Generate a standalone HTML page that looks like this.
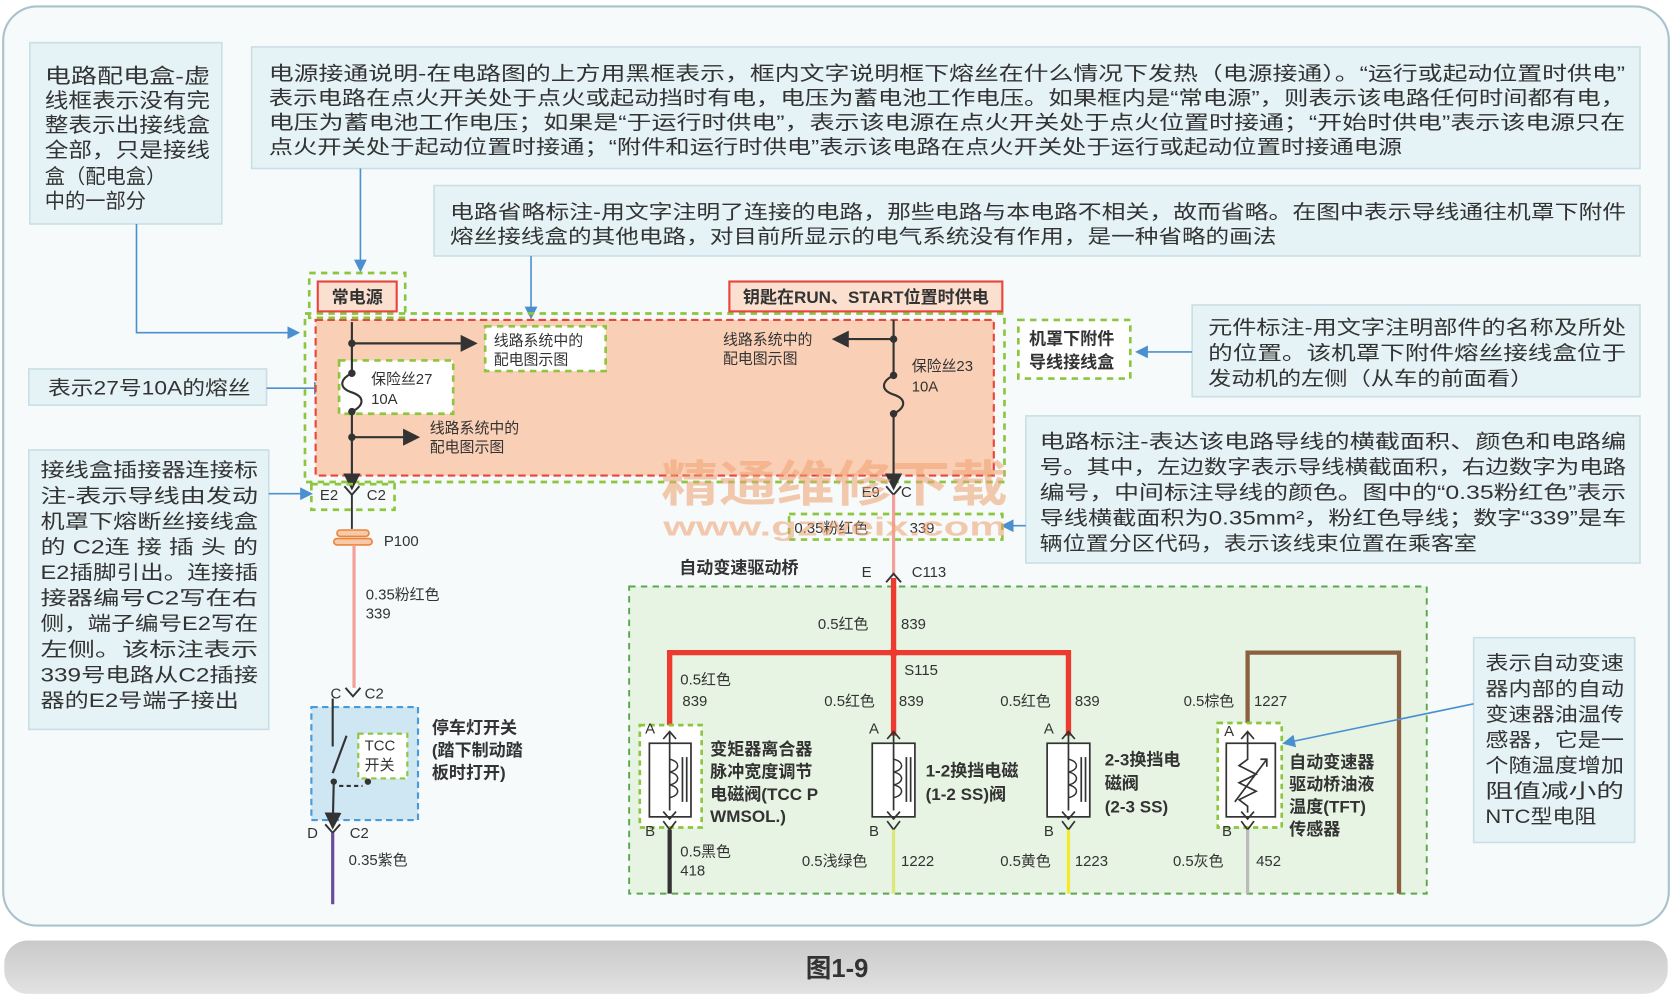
<!DOCTYPE html>
<html><head><meta charset="utf-8">
<style>
html,body{margin:0;padding:0;background:#fff;width:1672px;height:996px;overflow:hidden}
svg{display:block}
text{font-family:"Liberation Sans","Noto Sans CJK SC",sans-serif;fill:#333}
.a{font-size:18px;fill:#3a3a3a}
.s{font-size:14px;fill:#333}
.b{font-size:16px;font-weight:bold;fill:#333}
</style></head><body>
<svg width="1672" height="996" viewBox="0 0 1568 934" preserveAspectRatio="none" xmlns="http://www.w3.org/2000/svg">
<defs>
<marker id="ab" markerWidth="8" markerHeight="8" refX="7" refY="4" orient="auto"><path d="M0,0 L8,4 L0,8 z" fill="#4a90d0"/></marker>
<marker id="ak" markerWidth="8" markerHeight="8" refX="7" refY="4" orient="auto"><path d="M0,0 L8,4 L0,8 z" fill="#333"/></marker>
<linearGradient id="gb" x1="0" y1="0" x2="0" y2="1"><stop offset="0" stop-color="#c9c9c9"/><stop offset="1" stop-color="#e2e2e2"/></linearGradient>
</defs>
<rect x="0" y="0" width="1568" height="934" fill="#fff"/>
<rect x="3" y="6" width="1562" height="862" rx="32" fill="#f6fafa" stroke="#a9c2cc" stroke-width="2"/>
<rect x="4" y="882" width="1560" height="50" rx="22" fill="url(#gb)"/>
<text x="785" y="916" font-size="24" font-weight="bold" text-anchor="middle" style="fill:#333">图1-9</text>

<g fill="#e6f3f6" stroke="#c8dfe5" stroke-width="1.5">
<rect x="28" y="40" width="180" height="170"/>
<rect x="236" y="44" width="1302" height="114"/>
<rect x="407" y="174" width="1131" height="66"/>
<rect x="27" y="346" width="223" height="34"/>
<rect x="27" y="422" width="225" height="262"/>
<rect x="1118" y="286" width="420" height="86"/>
<rect x="962" y="390" width="576" height="138"/>
<rect x="1382" y="598" width="151" height="192"/>
</g>
<g class="a">
<text x="42" y="78" font-size="19" textLength="155" lengthAdjust="spacingAndGlyphs">电路配电盒-虚</text>
<text x="42" y="101" font-size="19" textLength="155" lengthAdjust="spacingAndGlyphs">线框表示没有完</text>
<text x="42" y="124" font-size="19" textLength="155" lengthAdjust="spacingAndGlyphs">整表示出接线盒</text>
<text x="42" y="147" font-size="19" textLength="155" lengthAdjust="spacingAndGlyphs">全部，只是接线</text>
<text x="42" y="172" font-size="19">盒（配电盒）</text>
<text x="42" y="195" font-size="19">中的一部分</text>

<text x="252" y="75" textLength="1272" lengthAdjust="spacingAndGlyphs">电源接通说明-在电路图的上方用黑框表示，框内文字说明框下熔丝在什么情况下发热（电源接通）。“运行或起动位置时供电”</text>
<text x="252" y="98" textLength="1272" lengthAdjust="spacingAndGlyphs">表示电路在点火开关处于点火或起动挡时有电，电压为蓄电池工作电压。如果框内是“常电源”，则表示该电路任何时间都有电，</text>
<text x="252" y="121" textLength="1272" lengthAdjust="spacingAndGlyphs">电压为蓄电池工作电压；如果是“于运行时供电”，表示该电源在点火开关处于点火位置时接通；“开始时供电”表示该电源只在</text>
<text x="252" y="144" textLength="1063" lengthAdjust="spacingAndGlyphs">点火开关处于起动位置时接通；“附件和运行时供电”表示该电路在点火开关处于运行或起动位置时接通电源</text>

<text x="422" y="205" textLength="1103" lengthAdjust="spacingAndGlyphs">电路省略标注-用文字注明了连接的电路，那些电路与本电路不相关，故而省略。在图中表示导线通往机罩下附件</text>
<text x="422" y="228" textLength="775" lengthAdjust="spacingAndGlyphs">熔丝接线盒的其他电路，对目前所显示的电气系统没有作用，是一种省略的画法</text>

<text x="45" y="370" textLength="190" lengthAdjust="spacingAndGlyphs">表示27号10A的熔丝</text>

<text x="38" y="447" textLength="204" lengthAdjust="spacingAndGlyphs">接线盒插接器连接标</text>
<text x="38" y="471" textLength="204" lengthAdjust="spacingAndGlyphs">注-表示导线由发动</text>
<text x="38" y="495" textLength="204" lengthAdjust="spacingAndGlyphs">机罩下熔断丝接线盒</text>
<text x="38" y="519" textLength="204" lengthAdjust="spacingAndGlyphs">的 C2连 接 插 头 的</text>
<text x="38" y="543" textLength="204" lengthAdjust="spacingAndGlyphs">E2插脚引出。连接插</text>
<text x="38" y="567" textLength="204" lengthAdjust="spacingAndGlyphs">接器编号C2写在右</text>
<text x="38" y="591" textLength="204" lengthAdjust="spacingAndGlyphs">侧，端子编号E2写在</text>
<text x="38" y="615" textLength="204" lengthAdjust="spacingAndGlyphs">左侧。该标注表示</text>
<text x="38" y="639" textLength="204" lengthAdjust="spacingAndGlyphs">339号电路从C2插接</text>
<text x="38" y="663" textLength="186" lengthAdjust="spacingAndGlyphs">器的E2号端子接出</text>

<text x="1133" y="313" textLength="392" lengthAdjust="spacingAndGlyphs">元件标注-用文字注明部件的名称及所处</text>
<text x="1133" y="337" textLength="392" lengthAdjust="spacingAndGlyphs">的位置。该机罩下附件熔丝接线盒位于</text>
<text x="1133" y="361" textLength="305" lengthAdjust="spacingAndGlyphs">发动机的左侧（从车的前面看）</text>

<text x="975" y="420" textLength="550" lengthAdjust="spacingAndGlyphs">电路标注-表达该电路导线的横截面积、颜色和电路编</text>
<text x="975" y="444" textLength="550" lengthAdjust="spacingAndGlyphs">号。其中，左边数字表示导线横截面积，右边数字为电路</text>
<text x="975" y="468" textLength="550" lengthAdjust="spacingAndGlyphs">编号，中间标注导线的颜色。图中的“0.35粉红色”表示</text>
<text x="975" y="492" textLength="550" lengthAdjust="spacingAndGlyphs">导线横截面积为0.35mm²，粉红色导线；数字“339”是车</text>
<text x="975" y="516" textLength="410" lengthAdjust="spacingAndGlyphs">辆位置分区代码，表示该线束位置在乘客室</text>

<text x="1393" y="628" textLength="130" lengthAdjust="spacingAndGlyphs">表示自动变速</text>
<text x="1393" y="652" textLength="130" lengthAdjust="spacingAndGlyphs">器内部的自动</text>
<text x="1393" y="676" textLength="130" lengthAdjust="spacingAndGlyphs">变速器油温传</text>
<text x="1393" y="700" textLength="130" lengthAdjust="spacingAndGlyphs">感器，它是一</text>
<text x="1393" y="724" textLength="130" lengthAdjust="spacingAndGlyphs">个随温度增加</text>
<text x="1393" y="748" textLength="130" lengthAdjust="spacingAndGlyphs">阻值减小的</text>
<text x="1393" y="772" textLength="104" lengthAdjust="spacingAndGlyphs">NTC型电阻</text>
</g>

<g stroke="#4a90d0" stroke-width="1.5" fill="none">
<polyline points="128,210 128,312 280,312" marker-end="url(#ab)"/>
<line x1="338" y1="158" x2="338" y2="254" marker-end="url(#ab)"/>
<line x1="498" y1="240" x2="498" y2="298" marker-end="url(#ab)"/>
<line x1="250" y1="364" x2="305" y2="364" marker-end="url(#ab)"/>
<line x1="252" y1="463" x2="292" y2="463" marker-end="url(#ab)"/>
<line x1="1118" y1="330" x2="1066" y2="330" marker-end="url(#ab)"/>
<line x1="962" y1="493" x2="940" y2="493" marker-end="url(#ab)"/>
</g>

<rect x="286" y="294" width="656" height="158" fill="none" stroke="#8cc63f" stroke-width="2.5" stroke-dasharray="6,5"/>
<rect x="296" y="300" width="636" height="146" fill="#f9cfb6" stroke="#e8463c" stroke-width="2" stroke-dasharray="7,4"/>
<rect x="290" y="256" width="90" height="42" fill="none" stroke="#8cc63f" stroke-width="2.5" stroke-dasharray="6,5"/>
<rect x="298" y="264" width="74" height="28" fill="#fbe0d0" stroke="#e8463c" stroke-width="2"/>
<text x="335" y="284" class="b" font-size="14" text-anchor="middle">常电源</text>
<rect x="684" y="264" width="256" height="28" fill="#fbe0d0" stroke="#e8463c" stroke-width="2"/>
<text x="812" y="284" class="b" font-size="14" text-anchor="middle">钥匙在RUN、START位置时供电</text>

<rect x="455" y="306" width="113" height="42" fill="#fff" stroke="#8cc63f" stroke-width="2.5" stroke-dasharray="6,5"/>
<rect x="318" y="338" width="107" height="50" fill="#fff" stroke="#8cc63f" stroke-width="2.5" stroke-dasharray="6,5"/>
<rect x="955" y="300" width="105" height="55" fill="#fff" stroke="#8cc63f" stroke-width="2.5" stroke-dasharray="6,5"/>
<text x="965" y="323" class="b">机罩下附件</text>
<text x="965" y="345" class="b">导线接线盒</text>

<g stroke="#333" stroke-width="2" fill="none">
<line x1="330" y1="302" x2="330" y2="350"/>
<path d="M330,350 c-12,6 -12,14 0,18 c12,4 12,12 0,18"/>
<line x1="330" y1="386" x2="330" y2="458" marker-end="url(#ak)"/>
<line x1="330" y1="322" x2="446" y2="322" marker-end="url(#ak)"/>
<line x1="330" y1="410" x2="392" y2="410" marker-end="url(#ak)"/>
<line x1="838" y1="300" x2="838" y2="352"/>
<path d="M838,352 c-12,6 -12,14 0,18 c12,4 12,12 0,18"/>
<line x1="838" y1="388" x2="838" y2="458" marker-end="url(#ak)"/>
<line x1="838" y1="318" x2="782" y2="318" marker-end="url(#ak)"/>
</g>
<g fill="#333"><circle cx="330" cy="322" r="3.5"/><circle cx="330" cy="350" r="3.5"/><circle cx="330" cy="386" r="3.5"/><circle cx="330" cy="410" r="3.5"/><circle cx="838" cy="318" r="3.5"/><circle cx="838" cy="352" r="3.5"/><circle cx="838" cy="388" r="3.5"/></g>
<g class="s">
<text x="463" y="324">线路系统中的</text><text x="463" y="342">配电图示图</text>
<text x="348" y="360">保险丝27</text><text x="348" y="379">10A</text>
<text x="403" y="406">线路系统中的</text><text x="403" y="424">配电图示图</text>
<text x="678" y="323">线路系统中的</text><text x="678" y="341">配电图示图</text>
<text x="855" y="348">保险丝23</text><text x="855" y="367">10A</text>
</g>

<rect x="292" y="454" width="78" height="24" fill="none" stroke="#8cc63f" stroke-width="2.5" stroke-dasharray="6,5"/>
<g stroke="#333" stroke-width="1.8" fill="none">
<path d="M323,456 L330,464 L337,456"/><line x1="330" y1="464" x2="330" y2="496"/>
<path d="M831,456 L838,464 L845,456"/>
</g>
<text x="300" y="469" class="s">E2</text><text x="344" y="469" class="s">C2</text>
<g fill="#f7c9a8" stroke="#e8863c" stroke-width="1.5"><rect x="316" y="497" width="30" height="6" rx="3"/><rect x="313" y="505" width="36" height="6" rx="3"/></g>
<text x="360" y="512" class="s">P100</text>
<line x1="332" y1="512" x2="332" y2="645" stroke="#f4a09a" stroke-width="3"/>
<text x="343" y="562" class="s">0.35粉红色</text><text x="343" y="580" class="s">339</text>
<path d="M324,645 L331,653 L338,645" stroke="#333" stroke-width="1.8" fill="none"/>
<text x="310" y="655" class="s">C</text><text x="342" y="655" class="s">C2</text>
<rect x="292" y="663" width="100" height="106" fill="#cfe6f3" stroke="#4a9ad6" stroke-width="2" stroke-dasharray="6,4"/>
<rect x="336" y="688" width="46" height="42" fill="#fff" stroke="#8cc63f" stroke-width="2" stroke-dasharray="5,4"/>
<g stroke="#333" stroke-width="2" fill="none">
<line x1="312" y1="655" x2="312" y2="700"/>
<line x1="325" y1="690" x2="312" y2="725"/>
<line x1="313" y1="733" x2="312" y2="776" marker-end="url(#ak)"/>
<line x1="318" y1="737" x2="340" y2="737" stroke-dasharray="4,3"/>
</g>
<circle cx="313" cy="733" r="3" fill="#333"/><circle cx="345" cy="733" r="3" fill="#333"/>
<text x="342" y="704" class="s">TCC</text><text x="342" y="722" class="s">开关</text>
<text x="405" y="688" class="b">停车灯开关</text><text x="405" y="709" class="b">(踏下制动踏</text><text x="405" y="730" class="b">板时打开)</text>
<path d="M305,773 L312,781 L319,773" stroke="#333" stroke-width="1.8" fill="none"/>
<text x="288" y="786" class="s">D</text><text x="328" y="786" class="s">C2</text>
<line x1="312" y1="781" x2="312" y2="848" stroke="#6a4c9c" stroke-width="3"/>
<text x="327" y="811" class="s">0.35紫色</text>

<text x="808" y="466" class="s">E9</text><text x="845" y="466" class="s">C</text>
<rect x="740" y="482" width="200" height="24" fill="none" stroke="#8cc63f" stroke-width="2.5" stroke-dasharray="6,5"/>
<line x1="838" y1="464" x2="838" y2="540" stroke="#f4a09a" stroke-width="3"/>
<text x="745" y="500" class="s">0.35粉红色</text><text x="853" y="500" class="s">339</text>
<text x="637" y="538" class="b">自动变速驱动桥</text>
<text x="808" y="541" class="s">E</text><text x="855" y="541" class="s">C113</text>
<rect x="590" y="550" width="748" height="288" fill="#e7f3e3" stroke="#5aa84c" stroke-width="1.8" stroke-dasharray="6,5"/>
<path d="M831,546 L838,538 L845,546" stroke="#333" stroke-width="1.8" fill="none"/>
<g stroke="#ee3a2e" stroke-width="5" fill="none">
<line x1="838" y1="542" x2="838" y2="690"/>
<polyline points="628,690 628,612 1002,612 1002,690"/>
</g>
<circle cx="838" cy="612" r="4" fill="#ee3a2e"/>
<polyline points="1170,690 1170,612 1312,612 1312,838" stroke="#8a6040" stroke-width="4" fill="none"/>
<g class="s">
<text x="767" y="590">0.5红色</text><text x="845" y="590">839</text>
<text x="848" y="633">S115</text>
<text x="638" y="642">0.5红色</text><text x="640" y="662">839</text>
<text x="773" y="662">0.5红色</text><text x="843" y="662">839</text>
<text x="938" y="662">0.5红色</text><text x="1008" y="662">839</text>
<text x="1110" y="662">0.5棕色</text><text x="1176" y="662">1227</text>
</g>
<g fill="none" stroke="#8cc63f" stroke-width="2.5" stroke-dasharray="5,4">
<rect x="600" y="680" width="58" height="96" fill="#fff"/>
<rect x="1142" y="678" width="60" height="98" fill="#fff"/>
</g>
<g stroke="#333" stroke-width="1.6" fill="#fff">
<rect x="609" y="697" width="39" height="69"/>
<rect x="818" y="697" width="40" height="69"/>
<rect x="982" y="697" width="40" height="69"/>
<rect x="1150" y="697" width="46" height="69"/>
</g>
<g stroke="#333" stroke-width="1.6" fill="none">
<path d="M628,686 L628,760 M622,693 L628,686 L634,693 M622,761 L628,768 L634,761 M622,770 L628,778 L634,770"/>
<path d="M628,712 c10,2 10,10 0,12 c10,2 10,10 0,12 c10,2 10,10 0,12" stroke-width="1.4"/>
<path d="M640,710 L640,752 M644,710 L644,752"/>
<path d="M838,686 L838,760 M832,693 L838,686 L844,693 M832,761 L838,768 L844,761 M832,770 L838,778 L844,770"/>
<path d="M838,712 c10,2 10,10 0,12 c10,2 10,10 0,12 c10,2 10,10 0,12" stroke-width="1.4"/>
<path d="M850,710 L850,752 M854,710 L854,752"/>
<path d="M1002,686 L1002,760 M996,693 L1002,686 L1008,693 M996,761 L1002,768 L1008,761 M996,770 L1002,778 L1008,770"/>
<path d="M1002,712 c10,2 10,10 0,12 c10,2 10,10 0,12 c10,2 10,10 0,12" stroke-width="1.4"/>
<path d="M1014,710 L1014,752 M1018,710 L1018,752"/>
<path d="M1170,686 L1170,712 L1162,718 L1178,726 L1162,734 L1178,742 L1162,750 L1170,756 L1170,762 M1164,693 L1170,686 L1176,693 M1164,761 L1170,768 L1176,761 M1164,770 L1170,778 L1176,770 M1158,752 L1188,712 M1182,712 L1188,712 L1188,719"/>
</g>
<g class="s">
<text x="605" y="688">A</text><text x="605" y="784">B</text>
<text x="815" y="688">A</text><text x="815" y="784">B</text>
<text x="979" y="688">A</text><text x="979" y="784">B</text>
<text x="1148" y="690">A</text><text x="1146" y="784">B</text>
</g>
<g class="b">
<text x="666" y="708">变矩器离合器</text><text x="666" y="729">脉冲宽度调节</text><text x="666" y="750">电磁阀(TCC P</text><text x="666" y="771">WMSOL.)</text>
<text x="868" y="728">1-2换挡电磁</text><text x="868" y="750">(1-2 SS)阀</text>
<text x="1036" y="718">2-3换挡电</text><text x="1036" y="740">磁阀</text><text x="1036" y="762">(2-3 SS)</text>
<text x="1209" y="720">自动变速器</text><text x="1209" y="741">驱动桥油液</text><text x="1209" y="762">温度(TFT)</text><text x="1209" y="783">传感器</text>
</g>
<line x1="628" y1="778" x2="628" y2="838" stroke="#333" stroke-width="4"/>
<line x1="838" y1="778" x2="838" y2="838" stroke="#dde87a" stroke-width="3"/>
<line x1="1002" y1="778" x2="1002" y2="838" stroke="#f2ea2a" stroke-width="3"/>
<line x1="1170" y1="778" x2="1170" y2="838" stroke="#bbb" stroke-width="3"/>
<g class="s">
<text x="638" y="803">0.5黑色</text><text x="638" y="821">418</text>
<text x="752" y="812">0.5浅绿色</text><text x="845" y="812">1222</text>
<text x="938" y="812">0.5黄色</text><text x="1008" y="812">1223</text>
<text x="1100" y="812">0.5灰色</text><text x="1178" y="812">452</text>
</g>

<line x1="1382" y1="660" x2="1204" y2="697" stroke="#4a90d0" stroke-width="1.5" marker-end="url(#ab)"/>

<text x="620" y="470" font-size="46" font-weight="bold" style="fill:#f0a070;opacity:0.55" textLength="325" lengthAdjust="spacingAndGlyphs">精通维修下载</text>
<text x="622" y="502" font-size="24" font-weight="bold" style="fill:#f0a070;opacity:0.55" textLength="322" lengthAdjust="spacingAndGlyphs">www.gzweix.com</text>
</svg>
</body></html>
